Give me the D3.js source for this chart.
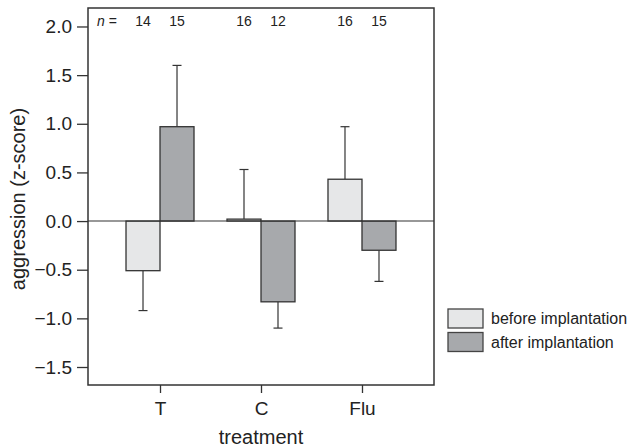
<!DOCTYPE html>
<html>
<head>
<meta charset="utf-8">
<script src="https://d3js.org/d3.v7.min.js"></script>
<style>
  body { margin: 0; background: #fff; }
  text { font-family: "Liberation Sans", Arial, sans-serif; fill: #222; }
</style>
</head>
<body>
<svg width="631" height="448"></svg>
<script>

var treatments = ["T", "C", "Flu"];
var phases = ["before implantation", "after implantation"];
var beforeMean = [-0.51, 0.02, 0.43];
var afterMean = [0.97, -0.83, -0.30];
var beforeErr = [-0.92, 0.53, 0.97];
var afterErr = [1.60, -1.10, -0.62];
var beforeN = [14, 16, 16];
var afterN = [15, 12, 15];
var yTicks = [-1.5, -1.0, -0.5, 0.0, 0.5, 1.0, 1.5, 2.0];
var colors = ["#e6e7e8", "#a7a9ac"];

var svg = d3.select("svg");
var plotL = 88, plotR = 434, plotT = 8, plotB = 385;

var y = d3.scaleLinear().domain([-1.685, 2.19]).range([plotB, plotT]);
var x = d3.scalePoint().domain(treatments).range([plotL, plotR]).padding(0.713);
var xs = d3.scaleBand().domain(phases).range([-34, 34]);

var rows = [];
treatments.forEach(function(t, i) {
  rows.push({ t: t, p: phases[0], v: beforeMean[i], e: beforeErr[i], n: beforeN[i], c: colors[0] });
  rows.push({ t: t, p: phases[1], v: afterMean[i], e: afterErr[i], n: afterN[i], c: colors[1] });
});

// error bars (one sided, away from zero)
var eb = svg.append("g");
rows.forEach(function(d) {
  var cx = x(d.t) + xs(d.p) + xs.bandwidth() / 2;
  eb.append("line")
    .attr("x1", cx).attr("x2", cx)
    .attr("y1", y(d.v)).attr("y2", y(d.e))
    .attr("stroke", "#333").attr("stroke-width", 1.2);
  eb.append("line")
    .attr("x1", cx - 4.5).attr("x2", cx + 4.5)
    .attr("y1", y(d.e)).attr("y2", y(d.e))
    .attr("stroke", "#333").attr("stroke-width", 1.2);
});

// bars
svg.append("g").selectAll("rect")
  .data(rows)
  .enter().append("rect")
    .attr("x", function(d) { return x(d.t) + xs(d.p); })
    .attr("width", xs.bandwidth())
    .attr("y", function(d) { return y(Math.max(0, d.v)); })
    .attr("height", function(d) { return Math.abs(y(d.v) - y(0)); })
    .attr("fill", function(d) { return d.c; })
    .attr("stroke", "#333")
    .attr("stroke-width", 1.3);

// zero line
svg.append("line")
  .attr("x1", plotL).attr("x2", plotR)
  .attr("y1", y(0)).attr("y2", y(0))
  .attr("stroke", "#333").attr("stroke-width", 1.1);

// frame
svg.append("rect")
  .attr("x", plotL).attr("y", plotT)
  .attr("width", plotR - plotL).attr("height", plotB - plotT)
  .attr("fill", "none").attr("stroke", "#333").attr("stroke-width", 1.5);

// y axis
var yAxis = svg.append("g")
  .attr("transform", "translate(" + plotL + ",0)")
  .call(d3.axisLeft(y).tickValues(yTicks).tickSize(11).tickPadding(5)
    .tickFormat(function(d) { return d3.format(".1f")(d).replace("-", "\u2212"); }));
yAxis.select(".domain").remove();
yAxis.selectAll("line").attr("stroke", "#333").attr("stroke-width", 1.3);
yAxis.selectAll("text").attr("font-size", 19).attr("font-family", "Liberation Sans, Arial, sans-serif").attr("fill", "#222");

// x axis
var xAxis = svg.append("g")
  .attr("transform", "translate(0," + plotB + ")")
  .call(d3.axisBottom(x).tickSize(8).tickPadding(9));
xAxis.select(".domain").remove();
xAxis.selectAll("line").attr("stroke", "#333").attr("stroke-width", 1.3);
xAxis.selectAll("text").attr("font-size", 19).attr("font-family", "Liberation Sans, Arial, sans-serif").attr("fill", "#222");

// axis titles
svg.append("text")
  .attr("x", (plotL + plotR) / 2).attr("y", 444)
  .attr("text-anchor", "middle").attr("font-size", 20)
  .text("treatment");

svg.append("text")
  .attr("transform", "translate(25,199) rotate(-90)")
  .attr("text-anchor", "middle").attr("font-size", 20)
  .text("aggression (z-score)");

// n labels
svg.append("text")
  .attr("x", 97).attr("y", 26).attr("font-size", 14)
  .html('<tspan font-style="italic">n</tspan> =');
svg.append("g").selectAll("text")
  .data(rows)
  .enter().append("text")
    .attr("x", function(d) { return x(d.t) + xs(d.p) + xs.bandwidth() / 2; })
    .attr("y", 26)
    .attr("text-anchor", "middle")
    .attr("font-size", 14)
    .text(function(d) { return d.n; });

// legend
var lg = svg.append("g").attr("transform", "translate(448,309)");
phases.forEach(function(p, i) {
  lg.append("rect")
    .attr("x", 0).attr("y", i * 23.5)
    .attr("width", 35).attr("height", 19)
    .attr("fill", colors[i]).attr("stroke", "#444").attr("stroke-width", 1.3);
  lg.append("text")
    .attr("x", 43).attr("y", i * 23.5 + 15)
    .attr("font-size", 16)
    .text(p);
});

</script>
</body>
</html>
